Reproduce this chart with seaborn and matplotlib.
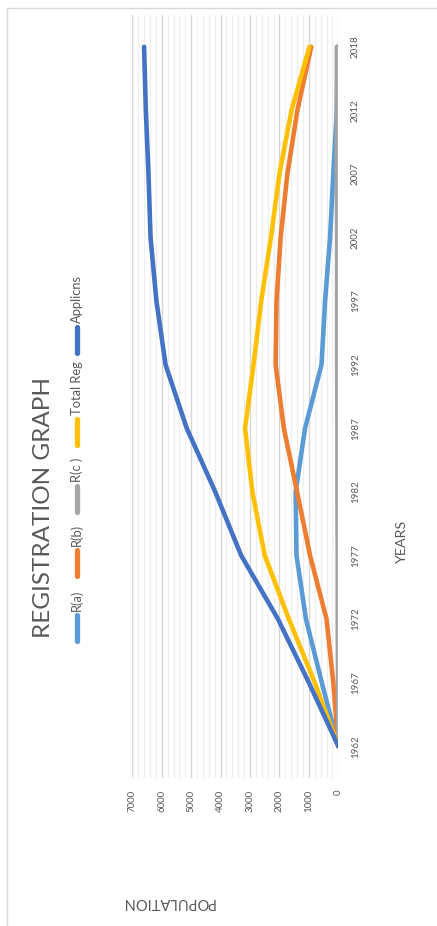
import numpy as np
import pandas as pd
import matplotlib
matplotlib.use("Agg")
import matplotlib.pyplot as plt
from matplotlib.lines import Line2D
import seaborn as sns

# ---- data -------------------------------------------------------------
years = ["1962", "1967", "1972", "1977", "1982", "1987",
         "1992", "1997", "2002", "2007", "2012", "2018"]
r_a = [0, 560, 1100, 1420, 1450, 1130, 570, 450, 280, 170, 50, 20]
r_b = [0, 170, 400, 960, 1400, 1850, 2130, 2100, 1960, 1730, 1390, 920]
r_c = [0, 10, 20, 20, 30, 30, 40, 40, 40, 50, 50, 50]
total_reg = [0, 800, 1680, 2500, 2920, 3170, 2880, 2620, 2290, 2000, 1590, 980]
applicns = [0, 1000, 2050, 3300, 4180, 5150, 5870, 6180, 6380, 6450, 6540, 6600]

series_names = ["R(a)", "R(b)", "R(c )", "Total Reg", "Applicns"]
series_values = [r_a, r_b, r_c, total_reg, applicns]
colors = ["#5B9BD5", "#ED7D31", "#A5A5A5", "#FFC000", "#4472C4"]
value_ticks = [0, 1000, 2000, 3000, 4000, 5000, 6000, 7000]

title = "REGISTRATION GRAPH"
x_title = "YEARS"
y_title = "POPULATION"

# ---- long-form table ----------------------------------------------------
rows = []
for name, vals in zip(series_names, series_values):
    for i, (yr, v) in enumerate(zip(years, vals)):
        rows.append({"series": name, "pos": i, "year": yr, "value": v})
df = pd.DataFrame(rows)

# ---- style --------------------------------------------------------------
sns.set_style("white")
plt.rcParams["font.family"] = ["Lato", "DejaVu Sans"]
fam = ["Lato", "DejaVu Sans"]
txt = "#595959"

W, H = 437, 926
fig = plt.figure(figsize=(W / 100, H / 100), dpi=100)
fig.patch.set_facecolor("white")


def fx(px):
    return px / W


def fy(py):
    return 1 - py / H


# plot area (chart turned a quarter turn: years run up the right side)
left_px, right_px, top_px, bottom_px = 132.3, 338.3, 15, 778
ax = fig.add_axes([fx(left_px), fy(bottom_px),
                   (right_px - left_px) / W, (bottom_px - top_px) / H])
ax.set_facecolor("white")

sns.lineplot(data=df, x="value", y="pos", hue="series",
             hue_order=series_names, palette=colors, orient="y",
             estimator=None, sort=True, legend=False, ax=ax,
             lw=3.3, solid_capstyle="round", solid_joinstyle="round")

ax.set_xlim(7000, 0)
ax.set_ylim(-0.5, len(years) - 0.5)

# gridlines
ax.set_xticks(value_ticks)
ax.set_xticks(np.arange(0, 7001, 200), minor=True)
ax.grid(which="minor", axis="x", color="#eeeeee", lw=0.9)
ax.grid(which="major", axis="x", color="#d6d6d6", lw=1.0)
ax.grid(which="both", axis="y", visible=False)
ax.set_axisbelow(True)
for s in ax.spines.values():
    s.set_visible(False)

# value labels along the bottom
ax.set_xticklabels([str(v) for v in value_ticks])
ax.tick_params(axis="x", which="both", length=0, pad=8.6,
               labelsize=7, labelcolor=txt, labelrotation=90)
for lbl in ax.get_xticklabels():
    lbl.set_ha("center")
    lbl.set_va("top")

# year labels on the right
ax.set_yticks(range(len(years)))
ax.set_yticklabels(years)
ax.yaxis.tick_right()
ax.tick_params(axis="y", which="both", length=0, pad=9.1,
               labelsize=7, labelcolor=txt, labelrotation=90)
for lbl in ax.get_yticklabels():
    lbl.set_ha("left")
    lbl.set_va("center")
ax.set_xlabel("")
ax.set_ylabel("")

# titles
fig.text(fx(44), fy(508), title, rotation=90, ha="center", va="center",
         fontsize=17.5, color=txt, family=fam)
fig.text(fx(401.5), fy(541), x_title, rotation=90, ha="center",
         va="center", fontsize=10.3, color=txt, family=fam)
fig.text(fx(167.5), fy(902), y_title, rotation=180, ha="center",
         va="center", fontsize=10.5, color=txt, family=fam)

# legend, stacked up the left side
legend_handle_centers = [628, 563, 499, 432, 340]
for name, col, yc in zip(series_names, colors, legend_handle_centers):
    fig.add_artist(Line2D([fx(77), fx(77)], [fy(yc + 13), fy(yc - 13)],
                          color=col, lw=3.8, solid_capstyle="round"))
    fig.text(fx(77), fy(yc - 17), name, rotation=90, ha="center",
             va="bottom", fontsize=9.3, color=txt, family=fam)

# chart-area border
fig.add_artist(Line2D([fx(7), fx(7)], [fy(8), 0], color="#d9d9d9", lw=1))
fig.add_artist(Line2D([fx(7), 1], [fy(8), fy(8)], color="#d9d9d9", lw=1))

fig.savefig("out.png", dpi=100)
